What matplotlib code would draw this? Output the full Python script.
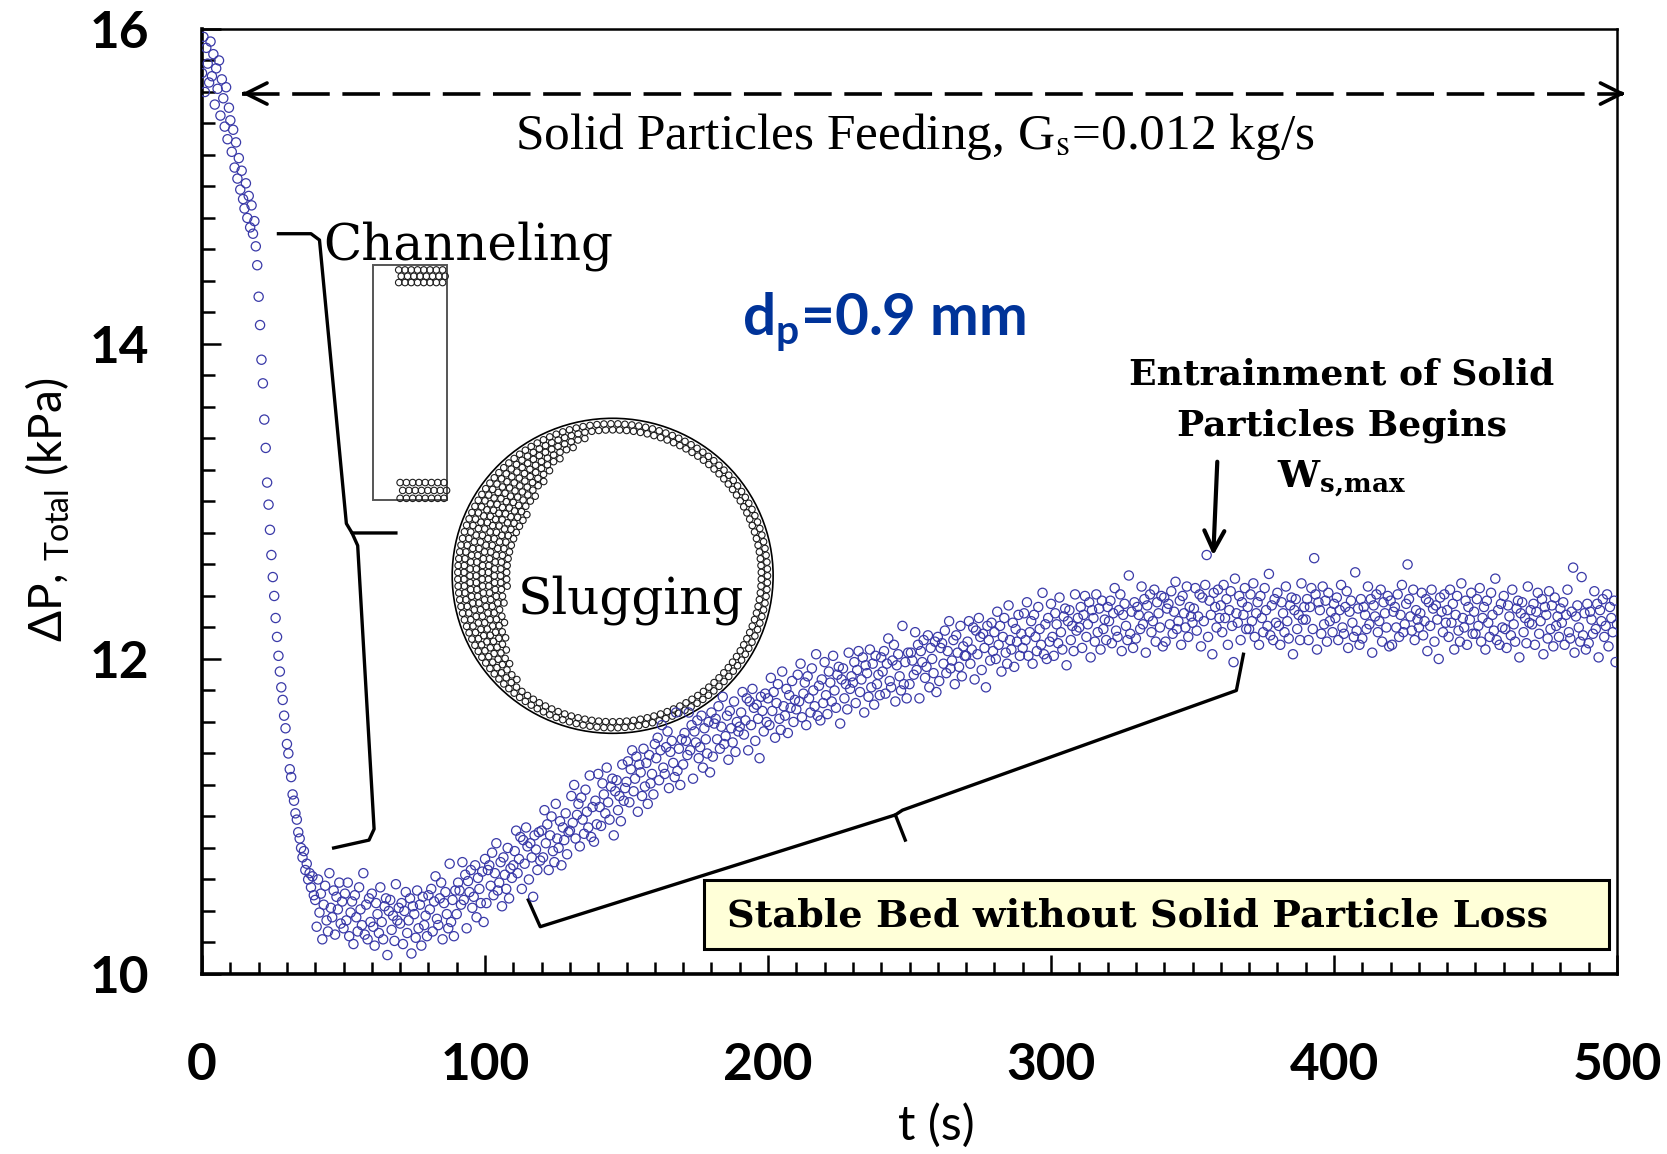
import numpy as np
import matplotlib.pyplot as plt
from matplotlib.patches import Rectangle, Ellipse
from matplotlib.ticker import MultipleLocator

plt.rcParams['font.family'] = ['Lato', 'DejaVu Sans']
plt.rcParams['mathtext.fontset'] = 'custom'
plt.rcParams['mathtext.rm'] = 'Lato'
plt.rcParams['mathtext.bf'] = 'Lato:bold'
plt.rcParams['mathtext.it'] = 'Lato:italic'

# pressure drop readings (kPa), one every 0.5 s
dp_initial = [
    15.72, 15.95, 15.60, 15.88, 15.78, 15.66, 15.92, 15.70, 15.84, 15.52, 15.75, 15.62, 15.80, 15.45, 15.68, 15.56, 15.38, 15.63, 15.30, 15.50,
    15.42, 15.22, 15.36, 15.12, 15.28, 15.05, 15.18, 14.98, 15.10, 14.92, 14.86, 15.02, 14.80, 14.94, 14.74, 14.88, 14.70, 14.78, 14.62, 14.50,
    14.30, 14.12, 13.90, 13.75, 13.52, 13.34, 13.12, 12.98, 12.82, 12.66, 12.52, 12.40, 12.26, 12.14, 12.02, 11.92, 11.82, 11.74, 11.64, 11.56,
    11.46, 11.40, 11.30, 11.25, 11.14, 11.10, 11.02, 10.98, 10.90, 10.86, 10.80, 10.74, 10.78, 10.66, 10.70, 10.60, 10.64, 10.55, 10.62, 10.50,
]
dp_trough = [
    10.47, 10.30, 10.60, 10.39, 10.51, 10.22, 10.44, 10.56, 10.34, 10.27, 10.64, 10.42, 10.36, 10.53, 10.25, 10.49, 10.41, 10.58, 10.32, 10.46,
    10.29, 10.51, 10.34, 10.58, 10.24, 10.39, 10.46, 10.19, 10.50, 10.36, 10.27, 10.55, 10.41, 10.31, 10.64, 10.25, 10.44, 10.22, 10.48, 10.33,
    10.51, 10.30, 10.18, 10.45, 10.38, 10.26, 10.55, 10.33, 10.22, 10.43, 10.48, 10.12, 10.40, 10.47, 10.28, 10.37, 10.21, 10.57, 10.34, 10.42,
    10.32, 10.45, 10.19, 10.40, 10.52, 10.26, 10.34, 10.48, 10.13, 10.43, 10.38, 10.23, 10.53, 10.29, 10.44, 10.18, 10.49, 10.31, 10.37, 10.24,
    10.50, 10.41, 10.54, 10.27, 10.46, 10.62, 10.35, 10.31, 10.48, 10.58, 10.22, 10.45, 10.52, 10.38, 10.29, 10.70, 10.33, 10.47, 10.24, 10.53,
    10.38, 10.58, 10.53, 10.44, 10.71, 10.47, 10.63, 10.29, 10.59, 10.52, 10.66, 10.42, 10.49, 10.69, 10.36, 10.61, 10.54, 10.45, 10.65, 10.33,
]
dp_rise = [
    10.73, 10.45, 10.66, 10.69, 10.56, 10.77, 10.50, 10.64, 10.83, 10.53, 10.58, 10.71, 10.43, 10.74, 10.63, 10.54, 10.80, 10.48, 10.67, 10.61,
    10.69, 10.78, 10.91, 10.64, 10.73, 10.87, 10.54, 10.85, 10.70, 10.93, 10.81, 10.60, 10.83, 10.74, 10.49, 10.88, 10.79, 10.66, 10.90, 10.72,
    10.91, 10.74, 11.04, 10.83, 10.95, 10.66, 10.88, 11.00, 10.78, 10.71, 11.08, 10.86, 10.80, 10.97, 10.69, 10.93, 10.85, 11.02, 10.76, 10.90,
    10.91, 11.13, 10.96, 11.20, 10.86, 11.01, 11.08, 10.81, 11.12, 10.98, 10.89, 11.17, 11.03, 10.93, 11.26, 10.87, 11.06, 10.84, 11.10, 10.95,
    11.27, 11.06, 10.94, 11.21, 11.14, 11.02, 11.31, 11.09, 10.98, 11.19, 11.24, 10.88, 11.16, 11.23, 11.04, 11.13, 10.97, 11.33, 11.10, 11.18,
    11.22, 11.35, 11.09, 11.30, 11.42, 11.16, 11.24, 11.38, 11.03, 11.33, 11.28, 11.13, 11.43, 11.19, 11.34, 11.08, 11.39, 11.21, 11.27, 11.14,
    11.46, 11.37, 11.50, 11.23, 11.42, 11.58, 11.31, 11.27, 11.44, 11.54, 11.18, 11.41, 11.48, 11.34, 11.25, 11.66, 11.29, 11.43, 11.20, 11.49,
    11.33, 11.53, 11.48, 11.39, 11.66, 11.42, 11.58, 11.24, 11.54, 11.47, 11.61, 11.37, 11.44, 11.64, 11.31, 11.56, 11.49, 11.40, 11.60, 11.28,
    11.66, 11.38, 11.59, 11.62, 11.49, 11.70, 11.43, 11.57, 11.76, 11.46, 11.51, 11.64, 11.36, 11.67, 11.56, 11.47, 11.73, 11.41, 11.60, 11.54,
    11.57, 11.66, 11.79, 11.52, 11.61, 11.75, 11.42, 11.73, 11.58, 11.81, 11.69, 11.48, 11.71, 11.62, 11.37, 11.76, 11.67, 11.54, 11.78, 11.60,
    11.75, 11.58, 11.88, 11.67, 11.79, 11.50, 11.72, 11.84, 11.62, 11.55, 11.92, 11.70, 11.64, 11.81, 11.53, 11.77, 11.69, 11.86, 11.60, 11.74,
    11.68, 11.90, 11.73, 11.97, 11.63, 11.78, 11.85, 11.58, 11.89, 11.75, 11.66, 11.94, 11.80, 11.70, 12.03, 11.64, 11.83, 11.61, 11.87, 11.72,
    11.98, 11.77, 11.65, 11.92, 11.85, 11.73, 12.02, 11.80, 11.69, 11.90, 11.95, 11.59, 11.87, 11.94, 11.75, 11.84, 11.68, 12.04, 11.81, 11.89,
    11.85, 11.98, 11.72, 11.93, 12.05, 11.79, 11.87, 12.01, 11.66, 11.96, 11.91, 11.76, 12.06, 11.82, 11.97, 11.71, 12.02, 11.84, 11.90, 11.77,
    12.01, 11.92, 12.05, 11.78, 11.97, 12.13, 11.86, 11.82, 11.99, 12.09, 11.73, 11.96, 12.03, 11.89, 11.80, 12.21, 11.84, 11.98, 11.75, 12.04,
    11.84, 12.04, 11.99, 11.90, 12.17, 11.93, 12.09, 11.75, 12.05, 11.98, 12.12, 11.88, 11.95, 12.15, 11.82, 12.07, 12.00, 11.91, 12.11, 11.79,
    12.14, 11.86, 12.07, 12.10, 11.97, 12.18, 11.91, 12.05, 12.24, 11.94, 11.99, 12.12, 11.84, 12.15, 12.04, 11.95, 12.21, 11.89, 12.08, 12.02,
    12.02, 12.11, 12.24, 11.97, 12.06, 12.20, 11.87, 12.18, 12.03, 12.26, 12.14, 11.93, 12.16, 12.07, 11.82, 12.21, 12.12, 11.99, 12.23, 12.05,
    12.17, 12.00, 12.30, 12.09, 12.21, 11.92, 12.14, 12.26, 12.04, 11.97, 12.34, 12.12, 12.06, 12.23, 11.95, 12.19, 12.11, 12.28, 12.02, 12.16,
    12.07, 12.29, 12.12, 12.36, 12.02, 12.17, 12.24, 11.97, 12.28, 12.14, 12.05, 12.33, 12.19, 12.09, 12.42, 12.03, 12.22, 12.00, 12.26, 12.11,
    12.35, 12.14, 12.02, 12.29, 12.22, 12.10, 12.39, 12.17, 12.06, 12.27, 12.32, 11.96, 12.24, 12.31, 12.12, 12.21, 12.05, 12.41, 12.18, 12.26,
    12.20, 12.33, 12.07, 12.28, 12.40, 12.14, 12.22, 12.36, 12.01, 12.31, 12.26, 12.11, 12.41, 12.17, 12.32, 12.06, 12.37, 12.19, 12.25, 12.12,
    12.33, 12.24, 12.37, 12.10, 12.29, 12.45, 12.18, 12.14, 12.31, 12.41, 12.05, 12.28, 12.35, 12.21, 12.12, 12.53, 12.16, 12.30, 12.07, 12.36,
    12.13, 12.33, 12.28, 12.19, 12.46, 12.22, 12.38, 12.04, 12.34, 12.27, 12.41, 12.17, 12.24, 12.44, 12.11, 12.36, 12.29, 12.20, 12.40, 12.08,
]
dp_plateau = [
    12.39, 12.11, 12.32, 12.35, 12.22, 12.43, 12.16, 12.30, 12.49, 12.19, 12.24, 12.37, 12.09, 12.40, 12.29, 12.20, 12.46, 12.14, 12.33, 12.27,
    12.23, 12.32, 12.45, 12.18, 12.27, 12.41, 12.08, 12.39, 12.24, 12.47, 12.66, 12.14, 12.37, 12.28, 12.03, 12.42, 12.33, 12.20, 12.44, 12.26,
    12.34, 12.17, 12.47, 12.26, 12.38, 12.09, 12.31, 12.43, 12.21, 11.98, 12.51, 12.29, 12.23, 12.40, 12.12, 12.36, 12.28, 12.45, 12.19, 12.33,
    12.19, 12.41, 12.24, 12.48, 12.14, 12.29, 12.36, 12.09, 12.40, 12.26, 12.17, 12.45, 12.31, 12.21, 12.54, 12.15, 12.34, 12.12, 12.38, 12.23,
    12.42, 12.21, 12.09, 12.36, 12.29, 12.17, 12.46, 12.24, 12.13, 12.34, 12.39, 12.03, 12.31, 12.38, 12.19, 12.28, 12.12, 12.48, 12.25, 12.33,
    12.25, 12.38, 12.12, 12.33, 12.45, 12.19, 12.64, 12.41, 12.06, 12.36, 12.31, 12.16, 12.46, 12.22, 12.37, 12.11, 12.42, 12.24, 12.30, 12.17,
    12.35, 12.26, 12.39, 12.12, 12.31, 12.47, 12.20, 12.16, 12.33, 12.43, 12.07, 12.30, 12.37, 12.23, 12.14, 12.55, 12.18, 12.32, 12.09, 12.38,
    12.13, 12.33, 12.28, 12.19, 12.46, 12.22, 12.38, 12.04, 12.34, 12.27, 12.41, 12.17, 12.24, 12.44, 12.11, 12.36, 12.29, 12.20, 12.40, 12.08,
    12.37, 12.09, 12.30, 12.33, 12.20, 12.41, 12.14, 12.28, 12.47, 12.17, 12.22, 12.35, 12.60, 12.38, 12.27, 12.18, 12.44, 12.12, 12.31, 12.25,
    12.20, 12.29, 12.42, 12.15, 12.24, 12.38, 12.05, 12.36, 12.21, 12.44, 12.32, 12.11, 12.34, 12.25, 12.00, 12.39, 12.30, 12.17, 12.41, 12.23,
    12.31, 12.14, 12.44, 12.23, 12.35, 12.06, 12.28, 12.40, 12.18, 12.11, 12.48, 12.26, 12.20, 12.37, 12.09, 12.33, 12.25, 12.42, 12.16, 12.30,
    12.16, 12.38, 12.21, 12.45, 12.11, 12.26, 12.33, 12.06, 12.37, 12.23, 12.14, 12.42, 12.28, 12.18, 12.51, 12.12, 12.31, 12.09, 12.35, 12.20,
    12.40, 12.19, 12.07, 12.34, 12.27, 12.15, 12.44, 12.22, 12.11, 12.32, 12.37, 12.01, 12.29, 12.36, 12.17, 12.26, 12.10, 12.46, 12.23, 12.31,
    12.22, 12.35, 12.09, 12.30, 12.42, 12.16, 12.24, 12.38, 12.03, 12.33, 12.28, 12.13, 12.43, 12.19, 12.34, 12.08, 12.39, 12.21, 12.27, 12.14,
    12.32, 12.23, 12.36, 12.09, 12.28, 12.44, 12.17, 12.13, 12.30, 12.58, 12.04, 12.27, 12.34, 12.20, 12.11, 12.52, 12.15, 12.29, 12.06, 12.35,
    12.10, 12.30, 12.25, 12.16, 12.43, 12.19, 12.35, 12.01, 12.31, 12.24, 12.38, 12.14, 12.21, 12.41, 12.08, 12.33, 12.26, 12.17, 12.37, 11.98,
    12.22,
]
dp = np.array(dp_initial + dp_trough + dp_rise + dp_plateau)
t = 0.5 * np.arange(len(dp))

fig = plt.figure(figsize=(16.67, 11.54), dpi=100)
ax = fig.add_axes([0.1212, 0.156, 0.8488, 0.8189])

ax.scatter(t, dp, s=44, facecolors='none', edgecolors='#3a3aa8', linewidths=0.9, zorder=3)

ax.set_xlim(0, 500)
ax.set_ylim(10, 16)
ax.xaxis.set_major_locator(MultipleLocator(100))
ax.xaxis.set_minor_locator(MultipleLocator(10))
ax.yaxis.set_major_locator(MultipleLocator(2))
ax.yaxis.set_minor_locator(MultipleLocator(0.2))
ax.tick_params(which='both', direction='in', top=False, right=False, width=1.8, colors='black')
ax.tick_params(which='major', length=14, labelsize=37)
ax.tick_params(which='minor', length=9)
ax.tick_params(axis='x', pad=49)
ax.tick_params(axis='y', pad=38)
for lab in ax.get_xticklabels() + ax.get_yticklabels():
    lab.set_fontweight('bold')
for side in ['left', 'bottom']:
    ax.spines[side].set_linewidth(2.6)
for side in ['top', 'right']:
    ax.spines[side].set_linewidth(1.8)

fig.text(0.029, 0.558, r'$\Delta$P, $_{\mathrm{Total}}$ (kPa)', rotation=90, ha='center', va='center', fontsize=33)
fig.text(0.5615, 0.025, 't (s)', ha='center', va='center', fontsize=35)

# solid feeding arrow
ax.plot([14, 502], [15.59, 15.59], color='black', lw=2.6, ls=(0, (10.4, 3.5)), clip_on=False)
ax.annotate('', xy=(13.1, 15.59), xytext=(16, 15.59),
            arrowprops=dict(arrowstyle='->', lw=2.6, mutation_scale=38, color='black'))
ax.annotate('', xy=(504, 15.59), xytext=(500, 15.59), annotation_clip=False,
            arrowprops=dict(arrowstyle='->', lw=2.6, mutation_scale=38, color='black'))
ax.text(252, 15.32, 'Solid Particles Feeding, G$_\\mathrm{s}$=0.012 kg/s', ha='center', va='center',
        fontsize=37, family='Liberation Serif', math_fontfamily='stix')

ax.text(190.8, 14.057, 'd$_\\mathbf{p}$=0.9 mm', color='#003399', fontsize=42, fontweight='bold', va='baseline')

# channeling inset
ax.text(43, 14.535, 'Channeling', fontsize=36, family='DejaVu Serif', va='baseline')
ax.plot([27.0, 38.5, 41.5, 51.0, 53.0, 68.5], [14.70, 14.70, 14.66, 12.86, 12.80, 12.80], color='black', lw=2.4)
ax.plot([53.0, 55.0, 60.8, 59.0, 46.5], [12.80, 12.72, 10.92, 10.85, 10.80], color='black', lw=2.4)
ax.add_patch(Rectangle((60.5, 13.01), 25.9, 1.49, fill=False, edgecolor='#555555', lw=1.4))
gx, gy = np.meshgrid(np.linspace(69.5, 85.0, 8), [14.47, 14.43, 14.39])
ax.scatter(gx.ravel() + 0.9 * (np.arange(gx.size) // 8 % 2), gy.ravel(), s=22, facecolors='none',
           edgecolors='#1e1e1e', linewidths=0.8)
gx, gy = np.meshgrid(np.linspace(70.0, 85.5, 8), [13.12, 13.07, 13.02])
ax.scatter(gx.ravel() + 0.9 * (np.arange(gx.size) // 8 % 2), gy.ravel(), s=22, facecolors='none',
           edgecolors='#1e1e1e', linewidths=0.8)

# slugging inset
cx, cy, rx, ry = 145.1, 12.528, 56.7, 1.0
ax.add_patch(Ellipse((cx, cy), 2 * rx, 2 * ry, fill=False, edgecolor='black', lw=1.2))
px, py = [], []
for k in range(10):
    depth = 0.035 + 0.038 * k
    n = int(145 * (1 - depth))
    th = 2 * np.pi * (np.arange(n) + 0.5 * (k % 2)) / n
    thick = 0.075 + 0.30 * np.clip(np.cos(1.3 * (th - np.radians(165))), 0, None)
    thick[np.abs(th - np.radians(165)) > np.radians(69)] = 0.075
    keep = depth <= thick
    px.append(cx + (1 - depth) * rx * np.cos(th[keep]))
    py.append(cy + (1 - depth) * ry * np.sin(th[keep]))
ax.scatter(np.concatenate(px), np.concatenate(py), s=22, facecolors='none', edgecolors='#1e1e1e', linewidths=0.8)
ax.text(151.6, 12.289, 'Slugging', fontsize=36, family='DejaVu Serif', ha='center', va='baseline')

# entrainment
ax.text(402.7, 13.74, 'Entrainment of Solid', fontsize=26, family='DejaVu Serif', fontweight='bold',
        ha='center', va='baseline')
ax.text(402.7, 13.416, 'Particles Begins', fontsize=26, family='DejaVu Serif', fontweight='bold',
        ha='center', va='baseline')
ax.text(402.7, 13.09, r'$\mathbf{W}_{\mathbf{s{,}max}}$', fontsize=27, math_fontfamily='dejavuserif',
        ha='center', va='baseline')
ax.annotate('', xy=(357.3, 12.64), xytext=(358.8, 13.27),
            arrowprops=dict(arrowstyle='->', lw=3, mutation_scale=36, color='black'))

# stable bed brace and box
ax.plot([115.3, 119.5, 245.0, 248.5], [10.47, 10.30, 11.01, 10.85], color='black', lw=2.4)
ax.plot([245.0, 247.5, 365.5, 368.0], [11.01, 11.04, 11.80, 12.03], color='black', lw=2.4)
ax.add_patch(Rectangle((177.3, 10.16), 319.7, 0.435, facecolor='#ffffd8', edgecolor='black', lw=2.2, zorder=4))
ax.text(330.6, 10.37, 'Stable Bed without Solid Particle Loss', fontsize=27.5, family='DejaVu Serif',
        fontweight='bold', ha='center', va='center', zorder=5)

fig.savefig('out.png', dpi=100)
